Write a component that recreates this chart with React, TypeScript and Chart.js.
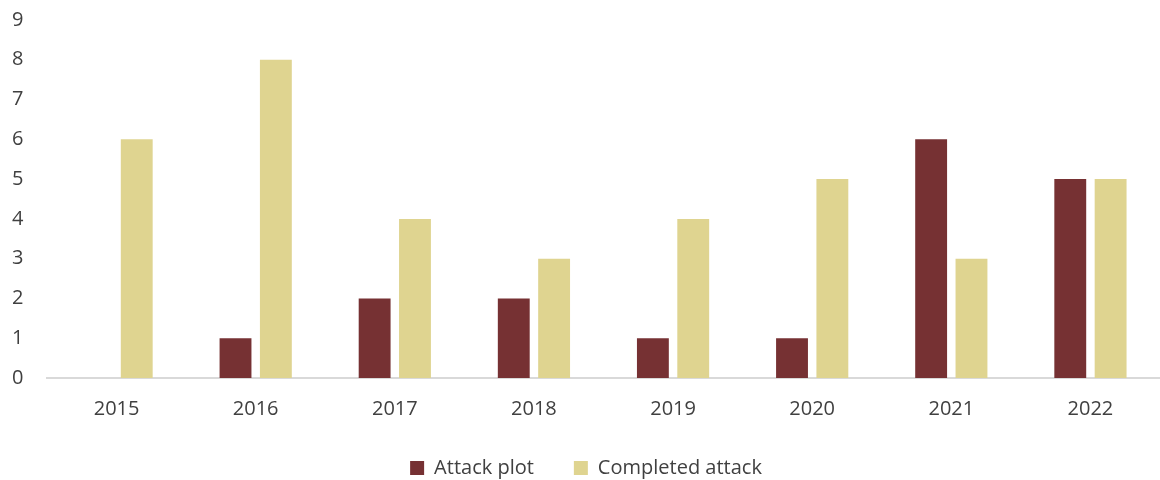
import React, { useEffect, useRef } from "react";
import { Chart, registerables } from "chart.js";

Chart.register(...registerables);

const years = ["2015", "2016", "2017", "2018", "2019", "2020", "2021", "2022"];
const attackPlot = [0, 1, 2, 2, 1, 1, 6, 5];
const completedAttack = [6, 8, 4, 3, 4, 5, 3, 5];
const yTicks = [0, 1, 2, 3, 4, 5, 6, 7, 8, 9];

export default function App() {
  const ref = useRef<HTMLCanvasElement | null>(null);
  useEffect(() => {
    if (!ref.current) return;
    const font = { family: "'Open Sans', 'Noto Sans', sans-serif", size: 20 };
    const chart = new Chart(ref.current, {
      type: "bar",
      data: {
        labels: years,
        datasets: [
          {
            label: "Attack plot",
            data: attackPlot,
            backgroundColor: "#763133",
            barPercentage: 0.79,
            categoryPercentage: 0.58,
          },
          {
            label: "Completed attack",
            data: completedAttack,
            backgroundColor: "#DFD490",
            barPercentage: 0.79,
            categoryPercentage: 0.58,
          },
        ],
      },
      options: {
        animation: false,
        responsive: false,
        maintainAspectRatio: false,
        layout: { padding: { left: 12, right: 0, top: 20, bottom: 0 } },
        plugins: {
          legend: {
            position: "bottom",
            maxHeight: 62,
            labels: {
              font,
              color: "#404040",
              boxWidth: 14,
              boxHeight: 14,
              padding: 40,
            },
          },
          tooltip: { enabled: false },
        },
        scales: {
          x: {
            grid: { display: false },
            border: { display: true, color: "#D9D9D9", width: 2 },
            ticks: { font, color: "#404040", padding: 11 },
            afterFit: (axis: any) => {
              axis.height = 40;
            },
          },
          y: {
            min: 0,
            max: 9,
            grid: { display: false, drawTicks: false },
            border: { display: false },
            afterBuildTicks: (axis: any) => {
              axis.ticks = yTicks.map((v) => ({ value: v }));
            },
            ticks: { font, color: "#404040", padding: 0, crossAlign: "far" as any },
            afterFit: (axis: any) => {
              axis.width = 35;
            },
          },
        },
      },
    });
    return () => chart.destroy();
  }, []);
  return (
    <div style={{ position: "absolute", left: 0, top: 0, width: 1160, height: 480 }}>
      <canvas ref={ref} width={1160} height={480} style={{ width: 1160, height: 480 }} />
    </div>
  );
}
